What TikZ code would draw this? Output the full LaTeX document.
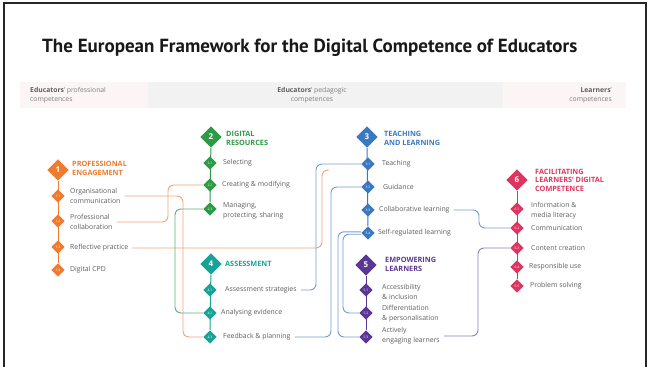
\documentclass[tikz,border=0pt]{standalone}
\usepackage{fontspec}
\setmainfont{Open Sans}
\newfontfamily\titlefont{PT Sans}
\usetikzlibrary{shapes.geometric,calc}
\definecolor{cOr}{HTML}{F07B2E}
\definecolor{cOrL}{HTML}{F3A176}
\definecolor{cGr}{HTML}{2F9A45}
\definecolor{cGrL}{HTML}{62AE72}
\definecolor{cTe}{HTML}{17A398}
\definecolor{cBl}{HTML}{3B78C0}
\definecolor{cBlL}{HTML}{739CD0}
\definecolor{cPu}{HTML}{5A3792}
\definecolor{cPuL}{HTML}{8B7DB5}
\definecolor{cRe}{HTML}{DE3560}
\definecolor{txt}{HTML}{5E5E5E}
\definecolor{bandP}{HTML}{FBF5F6}
\definecolor{bandG}{HTML}{F2F2F2}
\pgfdeclarelayer{bg}
\pgfsetlayers{bg,main}
\begin{document}
\begin{tikzpicture}[x=1pt,y=-1pt,
  big/.style={diamond,aspect=1,fill=#1,minimum width=21.5pt,minimum height=21.5pt,inner sep=0pt,text=white,font=\bfseries\fontsize{8}{8}\selectfont},
  sml/.style={diamond,aspect=1,fill=#1,minimum width=13.5pt,minimum height=13.5pt,inner sep=0pt,text=white,font=\fontsize{3.3}{3.3}\selectfont},
  lbl/.style={anchor=west,inner sep=0pt,align=left,text=txt,font=\fontsize{6.9}{9.8}\selectfont},
  ttl/.style={anchor=west,inner sep=0pt,align=left,text=#1,font=\bfseries\fontsize{7.3}{9}\selectfont},
  hdr/.style={inner sep=0pt,text=txt!80,font=\fontsize{6.8}{9}\selectfont},
  spine/.style={draw=#1,line width=1pt},
  con/.style={draw=#1,line width=0.9pt,rounded corners=6pt},
]
\useasboundingbox (0,0) rectangle (649,367);
\draw[line width=2.2pt,black!85] (4,368) -- (4,3) -- (646,3) -- (646,368);
% header band
\fill[bandP] (20,82) rectangle (148,108);
\fill[bandG] (148,82) rectangle (503,108);
\fill[bandP] (503,82) rectangle (626,108);
\node[anchor=west,inner sep=0pt,text=black!90,font=\titlefont\bfseries\fontsize{19}{19}\selectfont] (title) at (42,48) {The European Framework for the Digital Competence of Educators};
\node[hdr,anchor=west,align=left] (h1) at (30,95) {\textcolor{txt}{\textbf{Educators}}' professional\\competences};
\node[hdr,align=center] (h2) at (312,95) {\textcolor{txt}{\textbf{Educators}}' pedagogic\\competences};
\node[hdr,anchor=east,align=right] (h3) at (612,95) {\textcolor{txt}{\textbf{Learners}}'\\competences};
% group 1
\node[big=cOr] (d1) at (58,170) {1};
\node[sml=cOr] (d11) at (58,196) {1.1};
\node[sml=cOr] (d12) at (58,221) {1.2};
\node[sml=cOr] (d13) at (58,247) {1.3};
\node[sml=cOr] (d14) at (58,270) {1.4};
\node[ttl=cOr] (n1) at (72,168) {PROFESSIONAL\\ENGAGEMENT};
\node[lbl] (t11) at (70,196) {Organisational\\communication};
\node[lbl] (t12) at (70,222) {Professional\\collaboration};
\node[lbl] (t13) at (70,248) {Reflective practice};
\node[lbl] (t14) at (70,270) {Digital CPD};
% group 2
\node[big=cGr] (d2) at (211,137) {2};
\node[sml=cGr] (d21) at (210,163) {2.1};
\node[sml=cGr] (d22) at (210,185) {2.2};
\node[sml=cGr] (d23) at (210,209) {2.3};
\node[ttl=cGr] (n2) at (226,138) {DIGITAL\\RESOURCES};
\node[lbl] (t21) at (223,163) {Selecting};
\node[lbl] (t22) at (222,185) {Creating \& modifying};
\node[lbl] (t23) at (223,211) {Managing,\\protecting, sharing};
% group 4
\node[big=cTe] (d4) at (211,264) {4};
\node[sml=cTe] (d41) at (210,290) {4.1};
\node[sml=cTe] (d42) at (210,313) {4.2};
\node[sml=cTe] (d43) at (210,337) {4.3};
\node[ttl=cTe] (n4) at (225,264) {ASSESSMENT};
\node[lbl] (t41) at (225,290) {Assessment strategies};
\node[lbl] (t42) at (221,313) {Analysing evidence};
\node[lbl] (t43) at (223,337) {Feedback \& planning};
% group 3
\node[big=cBl] (d3) at (367,137) {3};
\node[sml=cBl] (d31) at (368,164) {3.1};
\node[sml=cBl] (d32) at (368,187) {3.2};
\node[sml=cBl] (d33) at (368,210) {3.3};
\node[sml=cBl] (d34) at (368,233) {3.4};
\node[ttl=cBl] (n3) at (384,138) {TEACHING\\AND LEARNING};
\node[lbl] (t31) at (382,164) {Teaching};
\node[lbl] (t32) at (383,187) {Guidance};
\node[lbl] (t33) at (379,210) {Collaborative learning};
\node[lbl] (t34) at (378,233) {Self-regulated learning};
% group 5
\node[big=cPu] (d5) at (366,265) {5};
\node[sml=cPu] (d51) at (366,290) {5.1};
\node[sml=cPu] (d52) at (366,313) {5.2};
\node[sml=cPu] (d53) at (366,337) {5.3};
\node[ttl=cPu] (n5) at (385,264) {EMPOWERING\\LEARNERS};
\node[lbl] (t51) at (382,292) {Accessibility\\\& inclusion};
\node[lbl] (t52) at (382,314) {Differentiation\\\& personalisation};
\node[lbl] (t53) at (382,336) {Actively\\engaging learners};
% group 6
\node[big=cRe] (d6) at (517,180) {6};
\node[sml=cRe] (d61) at (517,209) {6.1};
\node[sml=cRe] (d62) at (517,228) {6.2};
\node[sml=cRe] (d63) at (517,248) {6.3};
\node[sml=cRe] (d64) at (517,267) {6.4};
\node[sml=cRe] (d65) at (517,286) {6.5};
\node[ttl=cRe,font=\bfseries\fontsize{7.3}{8.4}\selectfont] (n6) at (535,180) {FACILITATING\\LEARNERS' DIGITAL\\COMPETENCE};
\node[lbl] (t61) at (531,211) {Information \&\\media literacy};
\node[lbl] (t62) at (531,228) {Communication};
\node[lbl] (t63) at (531,248) {Content creation};
\node[lbl] (t64) at (529,267) {Responsible use};
\node[lbl] (t65) at (530,286) {Problem solving};
% bend coordinates
\coordinate (xo1) at (183,0);
\coordinate (xo2) at (168,0);
\coordinate (xg1) at (175,0);
\coordinate (xo3) at (322,0);
\coordinate (o3end) at (329,170);
\coordinate (xb1) at (316,0);
\coordinate (xb2) at (331,0);
\coordinate (xb3) at (343,0);
\coordinate (xb4) at (338,0);
\coordinate (xb5) at (479,0);
\coordinate (xp1) at (478,0);
\begin{pgfonlayer}{bg}
\draw[spine=cOr] (d1) -- (d14);
\draw[spine=cGr] (d2) -- (d23);
\draw[spine=cTe] (d4) -- (d43);
\draw[spine=cBl] (d3) -- (d34);
\draw[spine=cPu] (d5) -- (d53);
\draw[spine=cRe] (d6) -- (d65);
\draw[con=cOrL] ([xshift=4pt]t11.east) -| (xo1 |- d43) -- (d43.west);
\draw[con=cOrL] ([xshift=4pt]t12.east) -| (xo2 |- d22) -- (d22.west);
\draw[con=cOrL] ([xshift=4pt]t13.east) -| (xo3 |- o3end) -- (o3end);
\draw[con=cGrL] (d23.west) -| (xg1 |- d42) -- (d42.west);
\draw[con=cBlL] (d31.west) -| (xb1 |- t41.east) -- ([xshift=4pt]t41.east);
\draw[con=cBlL] (d32.west) -| (xb2 |- t43.east) -- ([xshift=4pt]t43.east);
\draw[con=cBlL] ([yshift=-1.2pt]d34.west) -| (xb3 |- d52) -- (d52.west);
\draw[con=cBlL] ([yshift=1.2pt]d34.west) -| (xb4 |- d53) -- (d53.west);
\draw[con=cBlL] ([xshift=4pt]t33.east) -| (xb5 |- d62) -- (d62.west);
\draw[con=cPuL] ([xshift=4pt]t53.east) -| (xp1 |- d63) -- (d63.west);
\end{pgfonlayer}
\end{tikzpicture}
\end{document}
